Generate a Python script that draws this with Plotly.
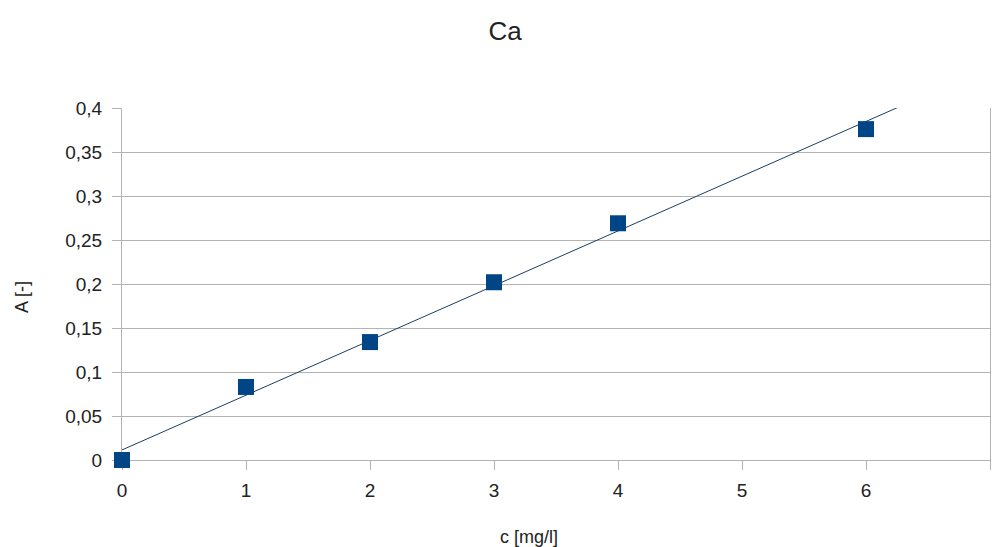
import numpy as np
import plotly.graph_objects as go

conc = [0, 1, 2, 3, 4, 6]
absorb = [0.0, 0.083, 0.134, 0.202, 0.269, 0.376]
x_ticks = [0, 1, 2, 3, 4, 5, 6, 7]
y_ticks = [0, 0.05, 0.1, 0.15, 0.2, 0.25, 0.3, 0.35, 0.4]

slope, intercept = np.polyfit(conc, absorb, 1)
trend_x = [0, 7]
trend_y = [intercept + slope * v for v in trend_x]

W, H = 995, 547
fig = go.Figure()
fig.add_trace(go.Scatter(x=trend_x, y=trend_y, mode="lines",
                         line=dict(color="#1c3f63", width=1), showlegend=False, hoverinfo="skip"))
fig.add_trace(go.Scatter(x=conc, y=absorb, mode="markers",
                         marker=dict(symbol="square", size=16, color="#004586"),
                         cliponaxis=False, showlegend=False))

font = "Liberation Sans, Arial, sans-serif"
fig.update_layout(
    width=W, height=H,
    margin=dict(l=122, r=5, t=108, b=87, autoexpand=False),
    paper_bgcolor="white", plot_bgcolor="white",
    separators=", ",
    font=dict(family=font, color="#222222", size=19),
    title=dict(text="Ca", x=505 / W, xanchor="center", y=1 - 31 / H, yanchor="middle",
               font=dict(size=26, family=font, color="#222222")),
    xaxis=dict(range=[0, 7], tickvals=x_ticks, showgrid=False, zeroline=False,
               showline=True, linecolor="#b3b3b3", linewidth=1, layer="below traces",
               ticks="outside", ticklen=9, tickcolor="#b3b3b3",
               ticklabelstandoff=4, tickfont=dict(size=19)),
    yaxis=dict(range=[0, 0.4], tickvals=y_ticks, showgrid=True, gridcolor="#b3b3b3",
               zeroline=False, showline=True, mirror=True, linecolor="#b3b3b3", linewidth=1,
               layer="below traces",
               ticks="outside", ticklen=9, tickcolor="#b3b3b3",
               ticklabelstandoff=6, tickfont=dict(size=19)),
    annotations=[
        dict(text="c [mg/l]", xref="paper", yref="paper",
             x=(529 - 122) / (W - 127), y=-(537 - 460) / (460 - 108),
             xanchor="center", yanchor="middle", showarrow=False, font=dict(size=18)),
        dict(text="A [-]", xref="paper", yref="paper", textangle=-90,
             x=-(122 - 22) / (W - 127), y=(460 - 297) / (460 - 108),
             xanchor="center", yanchor="middle", showarrow=False, font=dict(size=18)),
    ],
)
fig.write_html("out.html", config={"displayModeBar": False},
               post_script="document.body.style.margin='0';document.body.style.overflow='hidden';")
